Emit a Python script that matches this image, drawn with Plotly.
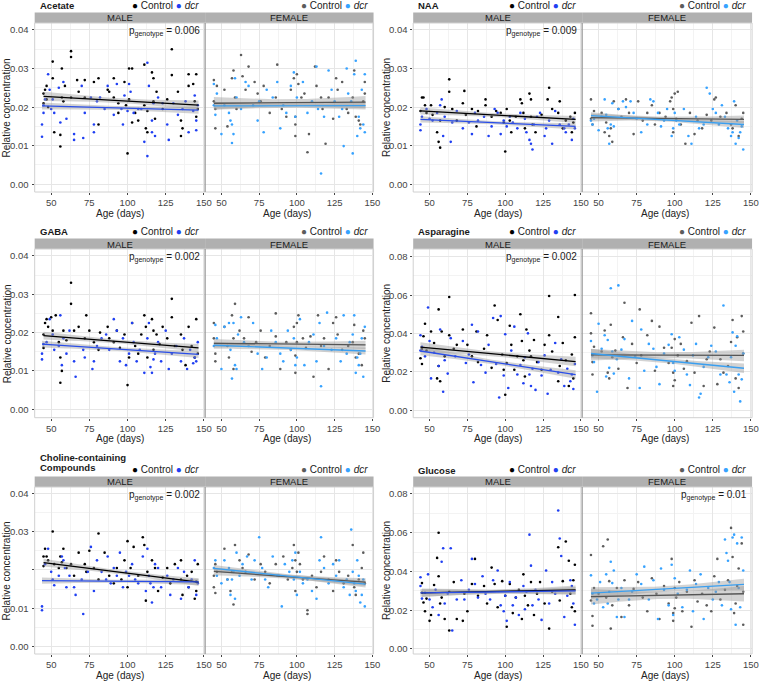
import numpy as np
import plotly.graph_objects as go

W, H = 767, 681

# ------------------------------------------------------------------ DATA
# order of groups: male control, male dcr, female control, female dcr
# ---- Acetate
acet_m_ctrl_x = [45,45,46,47,47,48,51,51,52,56,56,57,57,58,59,63,63,63,67,68,72,72,78,81,81,87,88,91,91,94,94,98,99,100,101,101,103,103,105,107,111,111,112,113,113,116,117,117,118,119,123,126,129,129,133,135,135,136,140,140,143,144,145,145,146]
acet_m_ctrl_y = [0.0235,0.021,0.0245,0.0255,0.022,0.020,0.0318,0.0275,0.0135,0.0128,0.0098,0.0225,0.030,0.0215,0.0255,0.0345,0.033,0.0225,0.027,0.024,0.027,0.0225,0.0265,0.0275,0.0155,0.0245,0.024,0.0275,0.0225,0.021,0.0185,0.0265,0.0205,0.008,0.030,0.022,0.030,0.016,0.0185,0.0165,0.031,0.0205,0.0145,0.019,0.0135,0.029,0.0275,0.0215,0.017,0.024,0.0195,0.022,0.035,0.0283,0.024,0.0165,0.0125,0.0145,0.0285,0.0255,0.026,0.0215,0.0175,0.0285,0.0195]
acet_m_dcr_x = [44,44,45,45,46,48,49,50,51,52,55,56,58,60,65,65,70,71,72,76,78,78,80,82,85,87,91,93,96,97,98,100,101,102,104,107,109,111,113,113,114,116,116,117,118,120,123,126,127,130,133,136,138,140,143,144,145,145,146]
acet_m_dcr_y = [0.0155,0.0123,0.0185,0.0205,0.022,0.0285,0.0245,0.0195,0.022,0.0185,0.025,0.016,0.0265,0.017,0.013,0.0115,0.0255,0.012,0.0185,0.0225,0.0155,0.0135,0.0215,0.0225,0.0195,0.0255,0.018,0.026,0.0195,0.0155,0.023,0.019,0.026,0.024,0.0185,0.0195,0.0195,0.011,0.0315,0.0073,0.0255,0.0165,0.0135,0.021,0.0125,0.0225,0.021,0.0155,0.0115,0.021,0.018,0.0195,0.0215,0.0135,0.019,0.023,0.0165,0.014,0.0205]
acet_f_ctrl_x = [45,45,46,46,47,52,54,57,58,59,60,63,64,66,68,72,74,76,78,82,86,87,90,93,96,98,99,99,99,100,101,103,105,107,108,112,113,116,117,119,121,124,126,127,130,133,134,137,138,139,141,142,144,145,145]
acet_f_ctrl_y = [0.027,0.0215,0.0195,0.0145,0.0255,0.0245,0.015,0.0275,0.0295,0.0225,0.0195,0.0335,0.028,0.0245,0.0305,0.0265,0.0235,0.0215,0.0255,0.0185,0.0225,0.031,0.0195,0.0175,0.0245,0.0275,0.0175,0.0155,0.0125,0.0285,0.026,0.0225,0.0235,0.0083,0.013,0.0305,0.0255,0.0225,0.0195,0.0105,0.0225,0.017,0.0275,0.0245,0.0265,0.0195,0.0185,0.0225,0.0295,0.0175,0.0165,0.0155,0.0215,0.0265,0.0235]
acet_f_dcr_x = [45,45,46,47,50,52,55,56,57,57,58,59,60,63,66,68,71,74,75,78,80,84,87,89,91,93,96,98,99,100,104,107,110,113,114,116,118,121,123,125,128,130,131,133,134,136,137,138,139,140,141,142,143,144,145,145]
acet_f_dcr_y = [0.026,0.0205,0.018,0.0235,0.013,0.0205,0.0185,0.0165,0.0155,0.0107,0.013,0.0275,0.0225,0.0195,0.0265,0.0255,0.0205,0.0165,0.0215,0.0135,0.0245,0.0225,0.0265,0.0145,0.0205,0.0185,0.0255,0.029,0.0175,0.0225,0.0265,0.0185,0.0215,0.0305,0.0195,0.0028,0.0175,0.0295,0.0245,0.0215,0.0175,0.0195,0.0099,0.030,0.0235,0.0215,0.008,0.0285,0.032,0.0125,0.0175,0.0145,0.0245,0.0155,0.0285,0.0135]
acet_fit_start = [0.0228, 0.0203, 0.0210, 0.0203]
acet_fit_end = [0.0205, 0.0192, 0.0213, 0.0204]
acet_ci_end = [0.0012, 0.0009, 0.0016, 0.0010]
acet_ci_mid = [0.0006, 0.0005, 0.0009, 0.0005]

# ---- NAA
naa_m_ctrl_x = [44,45,46,47,48,51,52,55,56,57,57,60,63,63,65,68,72,73,74,78,81,82,87,87,91,94,97,99,100,101,103,104,107,110,111,112,113,116,117,117,118,120,124,128,129,131,135,136,138,140,143,144,145,146]
naa_m_ctrl_y = [0.019,0.0225,0.0225,0.0205,0.0185,0.0205,0.018,0.0135,0.011,0.0095,0.0165,0.020,0.0272,0.024,0.0195,0.0165,0.021,0.0242,0.018,0.0195,0.015,0.019,0.022,0.0205,0.0175,0.019,0.0185,0.016,0.0085,0.0195,0.0165,0.0135,0.0175,0.022,0.021,0.0185,0.0145,0.0235,0.022,0.0175,0.0155,0.0135,0.018,0.022,0.025,0.0195,0.0185,0.0215,0.0145,0.0165,0.0175,0.0135,0.016,0.0185]
naa_m_dcr_x = [44,44,45,48,50,52,55,57,58,59,60,64,65,68,72,76,78,80,82,86,89,91,93,95,97,99,101,103,105,108,110,113,114,116,117,118,119,121,123,126,127,129,131,133,136,139,140,142,144,145,146]
naa_m_dcr_y = [0.0155,0.014,0.0175,0.0195,0.017,0.0165,0.0185,0.0205,0.022,0.0125,0.0175,0.011,0.016,0.019,0.0145,0.016,0.013,0.0185,0.0165,0.0175,0.0125,0.015,0.0195,0.0185,0.013,0.0165,0.015,0.0175,0.016,0.0145,0.0185,0.017,0.0135,0.0115,0.0105,0.009,0.0155,0.0175,0.0185,0.0125,0.0145,0.0165,0.0105,0.019,0.0155,0.0145,0.0135,0.0155,0.0115,0.017,0.0145]
naa_f_ctrl_x = [45,45,46,47,52,54,55,57,58,59,60,63,65,68,70,73,76,79,82,85,87,90,94,97,98,99,99,100,101,102,104,107,110,113,115,118,121,124,126,127,130,134,137,138,140,142,144,145]
naa_f_ctrl_y = [0.022,0.017,0.0155,0.019,0.0185,0.0135,0.016,0.0125,0.0145,0.011,0.0215,0.0195,0.0175,0.022,0.0185,0.013,0.0215,0.0165,0.0185,0.0205,0.0155,0.0185,0.0175,0.0215,0.0225,0.0195,0.0135,0.0235,0.017,0.024,0.0155,0.0105,0.0185,0.013,0.0165,0.0145,0.018,0.0165,0.022,0.0225,0.0175,0.0185,0.0155,0.0145,0.0205,0.0125,0.017,0.0185]
naa_f_dcr_x = [45,46,47,50,52,54,55,56,57,58,59,60,63,66,68,71,73,75,78,82,84,86,89,91,93,95,98,99,100,101,103,106,109,111,114,116,119,121,123,125,127,129,131,133,135,137,138,139,140,141,142,143,144,145]
naa_f_dcr_y = [0.0165,0.0155,0.017,0.014,0.0175,0.022,0.018,0.0145,0.0105,0.0155,0.021,0.015,0.0195,0.0215,0.02,0.0215,0.0185,0.017,0.0135,0.0155,0.022,0.0215,0.0185,0.015,0.0165,0.0195,0.0125,0.0145,0.0185,0.0165,0.0155,0.0195,0.0125,0.0105,0.0175,0.0145,0.0155,0.025,0.0235,0.0195,0.0185,0.0155,0.0205,0.0175,0.0145,0.0125,0.0135,0.0215,0.0105,0.0165,0.012,0.0135,0.015,0.009]
naa_fit_start = [0.0190, 0.0168, 0.0173, 0.0178]
naa_fit_end = [0.0168, 0.0150, 0.0168, 0.0155]
naa_ci_end = [0.0009, 0.0008, 0.0010, 0.0009]
naa_ci_mid = [0.0005, 0.0004, 0.0005, 0.0004]

# ---- GABA
gaba_m_ctrl_x = [45,45,46,47,48,50,51,53,55,56,56,57,58,60,63,63,65,68,72,73,75,78,81,82,87,88,91,93,95,98,100,101,103,105,107,109,111,112,113,116,117,117,119,121,123,126,129,129,131,135,136,138,140,142,144,145,146]
gaba_m_ctrl_y = [0.0195,0.016,0.0225,0.0235,0.0215,0.024,0.0205,0.0245,0.0175,0.0135,0.0069,0.010,0.0205,0.018,0.033,0.0275,0.0205,0.0215,0.0185,0.0245,0.0205,0.0175,0.0155,0.020,0.0215,0.0185,0.0175,0.0205,0.016,0.0195,0.0063,0.0135,0.0225,0.0165,0.0145,0.0195,0.0245,0.0215,0.0135,0.0235,0.0205,0.0155,0.0195,0.017,0.0215,0.0185,0.0288,0.024,0.0165,0.0195,0.0155,0.0115,0.0215,0.0165,0.0135,0.0235,0.0145]
gaba_m_dcr_x = [44,44,45,47,49,51,52,55,56,57,58,60,62,65,66,71,72,77,78,80,83,86,88,91,93,95,97,99,101,103,104,106,108,111,113,114,115,116,117,118,120,122,125,127,129,132,135,137,139,141,143,144,145,146]
gaba_m_dcr_y = [0.0145,0.013,0.017,0.0175,0.0235,0.0195,0.0155,0.0165,0.0245,0.0115,0.0185,0.0145,0.0205,0.0125,0.0085,0.0155,0.0135,0.0105,0.0125,0.0165,0.0185,0.0195,0.0155,0.0235,0.0205,0.0125,0.0185,0.0115,0.0145,0.0225,0.0175,0.0125,0.0155,0.0095,0.0185,0.0225,0.011,0.0095,0.013,0.0145,0.0175,0.0125,0.0205,0.0105,0.0145,0.0165,0.0125,0.0185,0.0105,0.0155,0.012,0.0135,0.0125,0.0175]
gaba_f_ctrl_x = [45,45,46,46,52,54,55,57,58,58,59,62,65,68,70,73,76,79,82,86,86,89,93,96,98,99,99,100,100,101,104,106,109,111,114,116,118,121,124,126,127,130,134,137,138,139,141,143,144,145]
gaba_f_ctrl_y = [0.0225,0.0185,0.0145,0.0125,0.0215,0.0165,0.0135,0.0245,0.0185,0.0105,0.0275,0.0205,0.0185,0.024,0.015,0.0175,0.0205,0.0135,0.0165,0.025,0.019,0.0105,0.0175,0.0155,0.0215,0.014,0.0095,0.0225,0.0175,0.0245,0.0185,0.016,0.019,0.0085,0.0245,0.0165,0.0185,0.0105,0.0225,0.024,0.0195,0.0155,0.0165,0.0175,0.022,0.0135,0.0145,0.0115,0.0205,0.0185]
gaba_f_dcr_x = [45,46,47,50,52,55,56,57,58,59,60,61,63,65,68,71,74,77,80,83,86,89,91,94,96,98,99,100,102,105,108,111,113,115,116,118,120,123,126,129,131,133,135,137,138,139,140,141,142,143,144,145]
gaba_f_dcr_y = [0.0165,0.022,0.0185,0.0105,0.0215,0.0225,0.0155,0.008,0.0225,0.0115,0.0105,0.0195,0.024,0.0175,0.0165,0.0225,0.0145,0.0105,0.0135,0.0205,0.0175,0.0145,0.0125,0.0205,0.0155,0.0185,0.0115,0.0135,0.0235,0.0115,0.0175,0.0195,0.0125,0.0225,0.006,0.0165,0.0252,0.0155,0.0185,0.0125,0.0245,0.0145,0.0175,0.0195,0.0245,0.0095,0.0135,0.0115,0.0145,0.0185,0.0085,0.0215]
gaba_fit_start = [0.0192, 0.0170, 0.0172, 0.0167]
gaba_fit_end = [0.0160, 0.0143, 0.0168, 0.0152]
gaba_ci_end = [0.0010, 0.0009, 0.0011, 0.0009]
gaba_ci_mid = [0.0005, 0.0005, 0.0006, 0.0005]

# ---- Asparagine
asp_m_ctrl_x = [44,45,45,46,47,48,51,53,55,56,56,57,58,60,63,63,66,68,72,75,78,81,82,86,88,91,93,95,98,99,100,101,103,104,106,108,110,111,112,113,114,116,117,119,121,124,126,129,129,131,135,135,136,138,140,142,144,145,146,146]
asp_m_ctrl_y = [0.027,0.032,0.024,0.0385,0.045,0.031,0.041,0.035,0.0165,0.0525,0.023,0.015,0.041,0.028,0.059,0.039,0.032,0.034,0.042,0.034,0.028,0.041,0.025,0.032,0.039,0.022,0.0545,0.047,0.029,0.021,0.008,0.0245,0.044,0.034,0.021,0.028,0.05,0.036,0.026,0.0175,0.042,0.031,0.028,0.0365,0.025,0.021,0.034,0.0595,0.039,0.0305,0.0485,0.015,0.023,0.035,0.026,0.0125,0.029,0.0165,0.06,0.038]
asp_m_dcr_x = [44,44,45,47,49,50,51,53,56,57,59,60,62,64,67,72,74,76,78,79,82,84,87,89,92,94,96,97,99,100,102,104,106,108,110,112,113,115,116,117,118,120,122,124,126,128,130,133,135,137,139,141,143,144,145,146]
asp_m_dcr_y = [0.039,0.031,0.033,0.028,0.0535,0.036,0.0165,0.03,0.023,0.042,0.0095,0.026,0.019,0.0375,0.028,0.036,0.0245,0.029,0.0445,0.0145,0.041,0.0235,0.0195,0.034,0.048,0.024,0.0065,0.049,0.018,0.0395,0.0115,0.031,0.0435,0.0185,0.0235,0.014,0.0275,0.04,0.0185,0.0125,0.0215,0.0105,0.025,0.018,0.0285,0.0085,0.021,0.035,0.0195,0.0265,0.0125,0.0215,0.015,0.0185,0.011,0.024]
asp_f_ctrl_x = [45,45,46,46,47,52,54,56,57,58,59,61,63,66,67,69,72,75,77,78,82,85,87,90,93,96,98,99,99,100,100,102,104,106,108,111,113,116,119,121,123,126,128,130,132,135,137,138,140,141,142,144,145,145]
asp_f_ctrl_y = [0.040,0.0505,0.025,0.0185,0.033,0.0305,0.0415,0.0195,0.0165,0.0445,0.0275,0.031,0.0215,0.038,0.056,0.0115,0.0345,0.0245,0.0525,0.0285,0.039,0.0465,0.0205,0.0435,0.0325,0.0245,0.0325,0.0195,0.0125,0.037,0.0155,0.0285,0.0345,0.0215,0.0255,0.0455,0.0195,0.049,0.0125,0.0265,0.0305,0.043,0.0135,0.0265,0.0195,0.023,0.0355,0.047,0.0165,0.038,0.0115,0.049,0.0295,0.041]
asp_f_dcr_x = [45,46,47,49,50,52,54,55,56,57,58,59,60,62,63,65,67,70,72,74,77,78,80,83,86,88,90,93,96,98,99,100,103,106,108,110,112,114,116,117,119,122,124,127,130,132,134,136,137,138,139,140,141,142,143,144,145]
asp_f_dcr_y = [0.036,0.0285,0.025,0.0095,0.045,0.032,0.039,0.0175,0.0365,0.022,0.0635,0.0305,0.019,0.0265,0.065,0.0315,0.037,0.0165,0.0465,0.028,0.0115,0.042,0.0205,0.0345,0.032,0.0225,0.0135,0.0295,0.034,0.0395,0.0245,0.0205,0.038,0.0315,0.0185,0.013,0.0285,0.0345,0.0065,0.0085,0.0225,0.0275,0.0335,0.0305,0.0185,0.0545,0.0185,0.0145,0.0275,0.0405,0.0095,0.0335,0.0385,0.0185,0.0045,0.016,0.0295]
asp_fit_start = [0.0328, 0.0308, 0.0288, 0.0295]
asp_fit_end = [0.0253, 0.0185, 0.0285, 0.0218]
asp_ci_end = [0.0025, 0.0022, 0.0030, 0.0025]
asp_ci_mid = [0.0012, 0.0011, 0.0015, 0.0012]

# ---- Choline-containing compounds
chol_m_ctrl_x = [45,45,46,47,48,51,52,55,56,57,58,60,63,65,68,72,73,75,78,81,81,85,88,91,93,96,98,100,100,102,104,107,110,111,112,113,116,118,120,123,126,128,131,135,135,136,139,140,142,144,145,145,146]
chol_m_ctrl_y = [0.0235,0.021,0.0255,0.0235,0.0225,0.030,0.0215,0.0205,0.0235,0.022,0.0255,0.0205,0.0215,0.0185,0.0245,0.0215,0.0195,0.025,0.0205,0.0295,0.0175,0.0245,0.0185,0.0165,0.0205,0.0175,0.0225,0.0275,0.0155,0.0205,0.026,0.0185,0.0285,0.0265,0.012,0.0195,0.0225,0.0205,0.0145,0.018,0.0205,0.0165,0.0215,0.0225,0.0175,0.0135,0.0185,0.0155,0.0195,0.0125,0.017,0.0145,0.0215]
chol_m_dcr_x = [44,44,46,48,50,51,52,55,57,58,59,60,62,65,66,70,71,74,76,78,80,83,86,87,89,91,93,95,97,99,101,103,105,107,110,112,113,114,115,116,117,118,120,122,126,128,130,133,135,137,140,142,144,145,146]
chol_m_dcr_y = [0.0105,0.0095,0.0215,0.0255,0.0195,0.0175,0.016,0.0185,0.0235,0.0225,0.0205,0.0155,0.0185,0.0155,0.0135,0.0175,0.0085,0.0195,0.026,0.0145,0.0225,0.0195,0.0175,0.0235,0.0165,0.0205,0.0185,0.0245,0.0155,0.0195,0.0185,0.0215,0.0175,0.0165,0.0235,0.0145,0.0255,0.0185,0.0165,0.0115,0.0155,0.0215,0.0205,0.0155,0.0185,0.0135,0.0175,0.0205,0.0125,0.0195,0.0155,0.0175,0.0225,0.0135,0.0165]
chol_f_ctrl_x = [45,45,46,46,47,52,54,56,57,58,59,62,64,66,68,72,76,79,82,86,88,91,94,97,98,99,99,100,101,102,104,107,107,110,113,116,118,121,124,126,128,131,134,137,138,139,141,143,144,145]
chol_f_ctrl_y = [0.0185,0.0155,0.014,0.0215,0.0195,0.0255,0.0175,0.0145,0.0195,0.011,0.0265,0.0225,0.0205,0.0195,0.024,0.0175,0.0215,0.0195,0.0165,0.0215,0.0185,0.0235,0.0175,0.0205,0.0265,0.0225,0.0145,0.0195,0.0245,0.0215,0.0175,0.0085,0.0095,0.0185,0.0155,0.0195,0.0235,0.0175,0.0145,0.0225,0.0195,0.0165,0.0185,0.0265,0.0155,0.0135,0.0175,0.0205,0.0245,0.0165]
chol_f_dcr_x = [45,46,47,50,52,54,55,56,57,58,59,60,62,64,67,70,72,75,77,79,81,84,87,90,92,95,97,98,99,100,102,104,107,110,113,115,116,118,121,124,126,128,131,133,135,136,137,138,139,140,141,142,143,144,145]
chol_f_dcr_y = [0.0205,0.0225,0.0185,0.0165,0.0225,0.0175,0.0205,0.0135,0.0175,0.0195,0.0125,0.0245,0.0185,0.0215,0.0235,0.0175,0.0225,0.0285,0.0205,0.0175,0.0155,0.0235,0.0185,0.0105,0.0215,0.0195,0.0225,0.0175,0.0245,0.0135,0.0195,0.0165,0.0175,0.0145,0.0125,0.0225,0.0285,0.0205,0.0165,0.0215,0.0185,0.0225,0.0155,0.0175,0.0135,0.0305,0.0195,0.0165,0.0145,0.0225,0.0185,0.0115,0.0135,0.0175,0.0105]
chol_fit_start = [0.0219, 0.0172, 0.0196, 0.0204]
chol_fit_end = [0.0168, 0.0169, 0.0168, 0.0163]
chol_ci_end = [0.0010, 0.0008, 0.0010, 0.0009]
chol_ci_mid = [0.0005, 0.0004, 0.0005, 0.0005]

# ---- Glucose
glu_m_ctrl_x = [45,45,46,47,48,50,51,53,55,56,56,57,58,60,63,63,66,68,72,73,75,78,80,82,86,88,91,93,95,98,100,101,103,105,107,109,111,112,113,115,117,119,121,123,126,129,131,135,136,138,140,142,143,144,145,146,146]
glu_m_ctrl_y = [0.034,0.029,0.024,0.0195,0.026,0.0145,0.0175,0.033,0.047,0.060,0.0375,0.0235,0.0265,0.0155,0.0095,0.0295,0.0345,0.0155,0.0145,0.0285,0.0195,0.0335,0.0465,0.0275,0.0325,0.0235,0.042,0.0335,0.0215,0.035,0.0275,0.0115,0.0335,0.0185,0.0265,0.0305,0.0155,0.0385,0.0275,0.0225,0.0345,0.0175,0.0285,0.0345,0.0235,0.0105,0.0295,0.0525,0.025,0.035,0.0555,0.0455,0.0285,0.0215,0.0355,0.0195,0.0435]
glu_m_dcr_x = [44,44,45,47,49,50,52,54,56,58,59,60,62,64,65,68,71,73,76,78,80,82,85,87,90,92,95,97,99,100,101,103,105,107,109,112,113,114,116,117,118,120,122,124,127,129,131,133,135,136,137,139,141,143,144,145,146]
glu_m_dcr_y = [0.037,0.0325,0.026,0.029,0.0385,0.0255,0.0215,0.0305,0.0175,0.045,0.052,0.0235,0.0285,0.052,0.0095,0.0255,0.0355,0.0255,0.0305,0.0465,0.0335,0.0265,0.0375,0.0285,0.0255,0.0355,0.0405,0.0225,0.0195,0.0275,0.0145,0.0345,0.0225,0.0265,0.0175,0.0325,0.0205,0.0295,0.059,0.043,0.0225,0.0305,0.0255,0.015,0.0405,0.0235,0.0345,0.0285,0.0715,0.057,0.048,0.0165,0.0275,0.0355,0.0325,0.0235,0.0125]
glu_f_ctrl_x = [45,45,46,46,47,50,53,55,56,57,58,59,62,65,67,70,73,76,79,82,85,88,90,93,96,98,99,99,100,100,101,103,105,108,111,113,115,118,121,124,126,128,130,133,135,137,138,139,140,141,142,144,145,145]
glu_f_ctrl_y = [0.0485,0.025,0.017,0.012,0.0315,0.0285,0.053,0.0265,0.0565,0.035,0.0105,0.0225,0.0315,0.0165,0.0355,0.0225,0.031,0.0345,0.0265,0.0195,0.0365,0.0285,0.0155,0.0325,0.0235,0.0465,0.0145,0.0185,0.0315,0.021,0.0265,0.0345,0.0195,0.0295,0.0115,0.0355,0.0245,0.0285,0.0225,0.0195,0.0375,0.0465,0.0255,0.0305,0.0355,0.0625,0.0475,0.0185,0.0235,0.0325,0.0415,0.0545,0.0125,0.0295]
glu_f_dcr_x = [45,46,47,49,51,53,55,56,57,58,59,60,62,63,65,67,70,72,75,78,80,83,86,89,91,93,96,98,99,100,102,105,108,110,112,114,117,119,122,125,127,129,131,133,134,135,136,137,138,139,140,141,142,143,144,145]
glu_f_dcr_y = [0.038,0.0285,0.0235,0.0255,0.0345,0.0215,0.0385,0.0235,0.0295,0.045,0.034,0.0405,0.0165,0.0255,0.0315,0.0165,0.0255,0.0295,0.0385,0.0335,0.0425,0.0255,0.0355,0.0155,0.0415,0.0305,0.0225,0.0435,0.0175,0.0365,0.0285,0.0215,0.0305,0.0405,0.0195,0.0335,0.0385,0.0155,0.0315,0.0255,0.0295,0.0345,0.0225,0.0565,0.0495,0.0455,0.0345,0.0205,0.0575,0.059,0.0125,0.0545,0.0315,0.0215,0.0575,0.0405]
glu_fit_start = [0.0290, 0.0289, 0.0270, 0.0288]
glu_fit_end = [0.0305, 0.0300, 0.0285, 0.0333]
glu_ci_end = [0.0022, 0.0020, 0.0040, 0.0030]
glu_ci_mid = [0.0010, 0.0010, 0.0018, 0.0014]

panel_titles = [["Acetate"], ["NAA"], ["GABA"], ["Asparagine"], ["Choline-containing", "Compounds"], ["Glucose"]]
p_values = ["0.006", "0.009", "0.002", "0.002", "0.002", "0.01"]
p_facet = [0, 0, 0, 0, 0, 1]          # facet holding the p label
facet_labels = ["MALE", "FEMALE"]
group_labels = ["Control", "dcr"]
x_ticks = [50, 75, 100, 125, 150]
y_ticks_small = [0.00, 0.01, 0.02, 0.03, 0.04]
y_ticks_large = [0.00, 0.02, 0.04, 0.06, 0.08]
y_labels_small = ["0.00", "0.01", "0.02", "0.03", "0.04"]
y_labels_large = ["0.00", "0.02", "0.04", "0.06", "0.08"]
y_labels_chol = ["0.00", "0.01", "", "0.03", "0.04"]   # reference omits the 0.02 label

# ------------------------------------------------------------------ STYLE / LAYOUT
COL = ["#000000", "#1f3ff2", "#5c5c5c", "#36a2ff"]
LINE_COL = ["#000000", "#2a4ee8", "#555555", "#3a9ff0"]
FONT = "Arial, Liberation Sans, sans-serif"
FS = 9.5

col_px = [[(35, 207), (207, 377)], [(417, 587.5), (587.5, 759)]]
row_px = [(23, 192), (249, 417.7), (487, 654)]
yranges = [[-0.0020, 0.0418], [-0.0020, 0.0418], [-0.0022, 0.0418], [-0.0040, 0.0840],
           [-0.0019, 0.0416], [-0.0026, 0.0836]]
xrange_ = [39.2, 150.8]

panels = []
for pre in ["acet", "naa", "gaba", "asp", "chol", "glu"]:
    g = globals()
    grp = []
    for s in ["m_ctrl", "m_dcr", "f_ctrl", "f_dcr"]:
        grp.append((g[f"{pre}_{s}_x"], g[f"{pre}_{s}_y"]))
    panels.append(dict(groups=grp, fs=g[f"{pre}_fit_start"], fe=g[f"{pre}_fit_end"],
                       ce=g[f"{pre}_ci_end"], cm=g[f"{pre}_ci_mid"]))
yticks_per_panel = [y_ticks_small, y_ticks_small, y_ticks_small, y_ticks_large, y_ticks_small, y_ticks_large]
ylabels_per_panel = [y_labels_small, y_labels_small, y_labels_small, y_labels_large, y_labels_chol, y_labels_large]


def fx(p):
    return p / W


def fy(p):
    return 1 - p / H


fig = go.Figure()
layout = {}
shapes = []
ann = []

for k, pn in enumerate(panels):
    r, c = k // 2, k % 2
    ytop, ybot = row_px[r]
    big = k in (3, 5)
    for f in range(2):
        n = 2 * k + f + 1
        xs = "" if n == 1 else str(n)
        x0, x1 = col_px[c][f]
        layout["xaxis" + xs] = dict(
            domain=[fx(x0), fx(x1)], anchor="y" + xs, range=xrange_,
            tickmode="array", tickvals=x_ticks, ticktext=[str(t) for t in x_ticks],
            showgrid=True, gridcolor="#e6e6e6", gridwidth=0.8,
            minor=dict(showgrid=True, gridcolor="#f3f3f3", gridwidth=0.6, tickmode="array",
                       tickvals=[62.5, 87.5, 112.5, 137.5]),
            zeroline=False, showline=False, ticks="outside", ticklen=2, tickcolor="#444",
            tickfont=dict(family=FONT, size=FS, color="#444"), fixedrange=True)
        yt = yticks_per_panel[k]
        minor_vals = [0.01, 0.03, 0.05, 0.07] if big else [0.005, 0.015, 0.025, 0.035]
        layout["yaxis" + xs] = dict(
            domain=[fy(ybot), fy(ytop)], anchor="x" + xs, range=yranges[k],
            tickmode="array", tickvals=yt, showticklabels=False,
            showgrid=True, gridcolor="#e6e6e6", gridwidth=0.8,
            minor=dict(showgrid=True, gridcolor="#f3f3f3", gridwidth=0.6, tickmode="array", tickvals=minor_vals),
            zeroline=False, showline=False, ticks=("outside" if f == 0 else ""), ticklen=2, tickcolor="#444",
            fixedrange=True)
        # y tick labels placed on the axis scale (data coordinates)
        if f == 0:
            for v, lab in zip(yt, ylabels_per_panel[k]):
                if lab:
                    ann.append(dict(text=lab, x=fx(x0 - 3.5), y=v, xref="paper", yref="y" + xs,
                                    showarrow=False, font=dict(family=FONT, size=FS, color="#444"),
                                    xanchor="right", yanchor="middle"))

        gi = [0, 1] if f == 0 else [2, 3]
        # points
        for j in gi:
            gx, gy = pn["groups"][j]
            m = min(len(gx), len(gy))
            fig.add_trace(go.Scatter(x=gx[:m], y=gy[:m], mode="markers", xaxis="x" + xs, yaxis="y" + xs,
                                     marker=dict(size=2.6, color=COL[j], line=dict(width=0)),
                                     showlegend=False, hoverinfo="skip"))
        # confidence bands
        for j in gi:
            gx, _ = pn["groups"][j]
            xa, xb = min(gx), max(gx) + 0.5
            xm, hw = (xa + xb) / 2, (xb - xa) / 2
            xx = np.linspace(xa, xb, 40)
            yc = pn["fs"][j] + (pn["fe"][j] - pn["fs"][j]) * (xx - xa) / (xb - xa)
            se = np.sqrt(pn["cm"][j] ** 2 + (pn["ce"][j] ** 2 - pn["cm"][j] ** 2) * ((xx - xm) / hw) ** 2)
            fig.add_trace(go.Scatter(x=np.concatenate([xx, xx[::-1]]), y=np.concatenate([yc + se, (yc - se)[::-1]]),
                                     fill="toself", fillcolor="rgba(150,150,150,0.42)", line=dict(width=0),
                                     mode="lines", xaxis="x" + xs, yaxis="y" + xs, showlegend=False, hoverinfo="skip"))
        # fitted lines
        for j in gi:
            gx, _ = pn["groups"][j]
            xa, xb = min(gx), max(gx) + 0.5
            fig.add_trace(go.Scatter(x=[xa, xb], y=[pn["fs"][j], pn["fe"][j]], mode="lines",
                                     line=dict(color=LINE_COL[j], width=1.3), xaxis="x" + xs, yaxis="y" + xs,
                                     showlegend=False, hoverinfo="skip"))

        # strip
        shapes.append(dict(type="rect", xref="paper", yref="paper", x0=fx(x0), x1=fx(x1),
                           y0=fy(ytop), y1=fy(ytop - 10.5), fillcolor="#b0b0b0", line=dict(width=0), layer="above"))
        ann.append(dict(text=facet_labels[f], x=fx((x0 + x1) / 2), y=fy(ytop - 5.0), xref="paper", yref="paper",
                        showarrow=False, font=dict(family=FONT, size=FS, color="#1a1a1a"),
                        xanchor="center", yanchor="middle"))
        # x axis title
        ann.append(dict(text="Age (days)", x=fx((x0 + x1) / 2 + (0.5 if f == 0 else -2.5)), y=fy(ybot + 21),
                        xref="paper", yref="paper",
                        showarrow=False, font=dict(family=FONT, size=10, color="#222"),
                        xanchor="center", yanchor="middle"))
        # legend
        ca, cb = (COL[0], COL[1]) if f == 0 else (COL[2], COL[3])
        leg_y = [6, 231.5, 469.5][r]
        ann.append(dict(text=f"<span style='color:{ca}'>●</span> Control <span style='color:{cb}'>●</span> <i>dcr</i>",
                        x=fx(x1 - 4), y=fy(leg_y), xref="paper", yref="paper", showarrow=False,
                        font=dict(family=FONT, size=10, color="#1a1a1a"), xanchor="right", yanchor="middle"))
        # p label
        if p_facet[k] == f:
            ann.append(dict(text=f"p<sub>genotype</sub> = {p_values[k]}", x=fx(x1 - 3.5), y=fy(ytop + 8),
                            xref="paper", yref="paper", showarrow=False,
                            font=dict(family=FONT, size=10, color="#1a1a1a"), xanchor="right", yanchor="middle"))

    # panel borders
    lx0, lx1 = col_px[c][0][0], col_px[c][1][1]
    mid = col_px[c][0][1]
    shapes.append(dict(type="rect", xref="paper", yref="paper", x0=fx(lx0), x1=fx(lx1), y0=fy(ybot), y1=fy(ytop),
                       line=dict(color="#d0d0d0", width=1), fillcolor="rgba(0,0,0,0)", layer="above"))
    shapes.append(dict(type="line", xref="paper", yref="paper", x0=fx(mid), x1=fx(mid), y0=fy(ybot), y1=fy(ytop),
                       line=dict(color="#9a9a9a", width=1.3), layer="above"))
    # y title
    ann.append(dict(text="Relative concentration", x=fx(lx0 - 28 if c == 0 else lx0 - 27), y=fy((ytop + ybot) / 2),
                    xref="paper", yref="paper", showarrow=False, textangle=-90,
                    font=dict(family=FONT, size=10, color="#222"), xanchor="center", yanchor="middle"))
    # panel title
    tx = 38 if c == 0 else 420
    titles = panel_titles[k]
    if len(titles) == 1:
        ty = [6, 231.5, 470][r]
        ann.append(dict(text=f"<b>{titles[0]}</b>", x=fx(tx), y=fy(ty), xref="paper", yref="paper",
                        showarrow=False, font=dict(family=FONT, size=FS, color="#1a1a1a"),
                        xanchor="left", yanchor="middle"))
    else:
        for i, t in enumerate(titles):
            ann.append(dict(text=f"<b>{t}</b>", x=fx(tx), y=fy(457 + 10.7 * i), xref="paper", yref="paper",
                            showarrow=False, font=dict(family=FONT, size=FS, color="#1a1a1a"),
                            xanchor="left", yanchor="middle"))

fig.update_layout(**layout)
fig.update_layout(width=W, height=H, margin=dict(l=0, r=0, t=0, b=0), paper_bgcolor="white",
                  plot_bgcolor="white", shapes=shapes, annotations=ann, showlegend=False,
                  font=dict(family=FONT))
fig.write_html("out.html", config={"displayModeBar": False})
